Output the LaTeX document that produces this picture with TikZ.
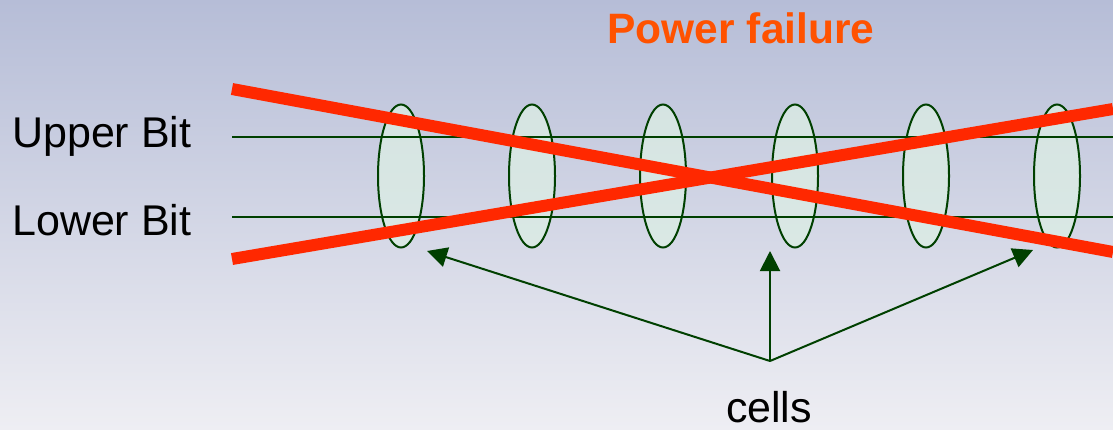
\documentclass[tikz,border=0pt]{standalone}
\usepackage{fontspec}
\setmainfont{Liberation Sans}
\usepackage{tikz}
\usetikzlibrary{arrows.meta,shapes.geometric}
\definecolor{bgtop}{RGB}{182,189,215}
\definecolor{bgbottom}{RGB}{238,238,243}
\definecolor{wiregreen}{RGB}{0,64,0}
\definecolor{cellfill}{RGB}{220,238,228}
\definecolor{crossred}{RGB}{255,40,0}
\definecolor{titleorange}{RGB}{255,82,0}

\begin{document}
\begin{tikzpicture}[
  x=1pt,y=-1pt,
  lbl/.style={font=\fontsize{43}{51}\selectfont,inner sep=0pt},
  heading/.style={font=\fontsize{42.5}{51}\selectfont\bfseries,text=titleorange,inner sep=0pt},
  wire/.style={draw=wiregreen,line width=1.8pt},
  cell/.style={ellipse,draw=wiregreen,line width=2pt,fill=cellfill,fill opacity=0.75,minimum width=46pt,minimum height=143pt,inner sep=0pt},
  pointer/.style={-{Triangle[length=20pt,width=20pt]},draw=wiregreen,line width=2pt},
  cross/.style={draw=crossred,line width=12pt}
]
\shade[top color=bgtop,bottom color=bgbottom] (0,0) rectangle (1113,429);
\useasboundingbox (0,0) rectangle (1113,429);

\node[heading,anchor=base] (title) at (741,43) {Power failure};
\node[lbl,anchor=base west] (upper) at (12,147) {Upper Bit};
\node[lbl,anchor=base west] (lower) at (12,235) {Lower Bit};

\foreach \i/\x in {1/401,2/532,3/663,4/795,5/926,6/1057}
  \node[cell] (c\i) at (\x,176) {};

\coordinate (ub) at (232,137);
\coordinate (ue) at (1113,137);
\coordinate (lb) at (232,217);
\coordinate (le) at (1113,217);
\draw[wire] (ub) -- (ue);
\draw[wire] (lb) -- (le);

\coordinate (xa) at (232,89);
\coordinate (xb) at (1113,252);
\coordinate (ya) at (232,259);
\coordinate (yb) at (1113,109);
\draw[cross] (xa) -- (xb);
\draw[cross] (ya) -- (yb);

\node[lbl,anchor=base] (cells) at (769,422) {cells};
\coordinate (hub) at (770,361);
\coordinate (p1) at (427,251);
\coordinate (p2) at (770,251);
\coordinate (p3) at (1033,250);
\foreach \p in {p1,p2,p3}
  \draw[pointer] (hub) -- (\p);
\end{tikzpicture}
\end{document}
